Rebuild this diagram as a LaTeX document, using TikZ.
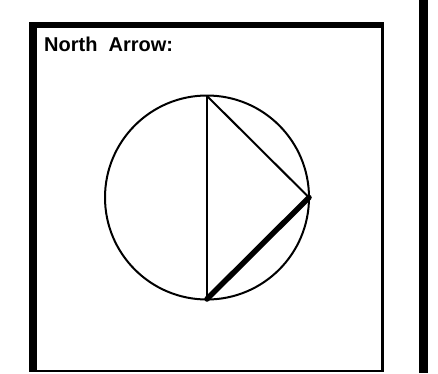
\documentclass[tikz,border=0pt]{standalone}
\usepackage{fontspec}
\setmainfont{Liberation Sans}
\begin{document}
\begin{tikzpicture}[x=1pt,y=1pt,
  frame/.style={fill=black},
  thinline/.style={line width=2pt},
  thickline/.style={line width=5.5pt}]
\useasboundingbox (0,0) rectangle (438,373);
% panel frame
\fill[frame] (29,1) rectangle (37,351);
\fill[frame] (29,345) rectangle (384,351);
\fill[frame] (381,1) rectangle (384,351);
\fill[frame] (29,1) rectangle (384,3.5);
% right divider
\fill[frame] (419,0) rectangle (428,373);
% label
\node[anchor=base west, inner sep=0pt, font=\fontsize{20}{22}\selectfont\bfseries] (lbl) at (44,321) {North\ \ Arrow:};
% north arrow
\coordinate (C) at (207,175.5);
\coordinate (T) at (207,277);
\coordinate (B) at (207,74);
\coordinate (R) at (309,175.5);
\draw[thinline] (C) circle (102);
\draw[thinline] (T) -- (B);
\draw[thinline] (T) -- (R);
\draw[thickline, line cap=round] (R) -- (B);
\end{tikzpicture}
\end{document}
